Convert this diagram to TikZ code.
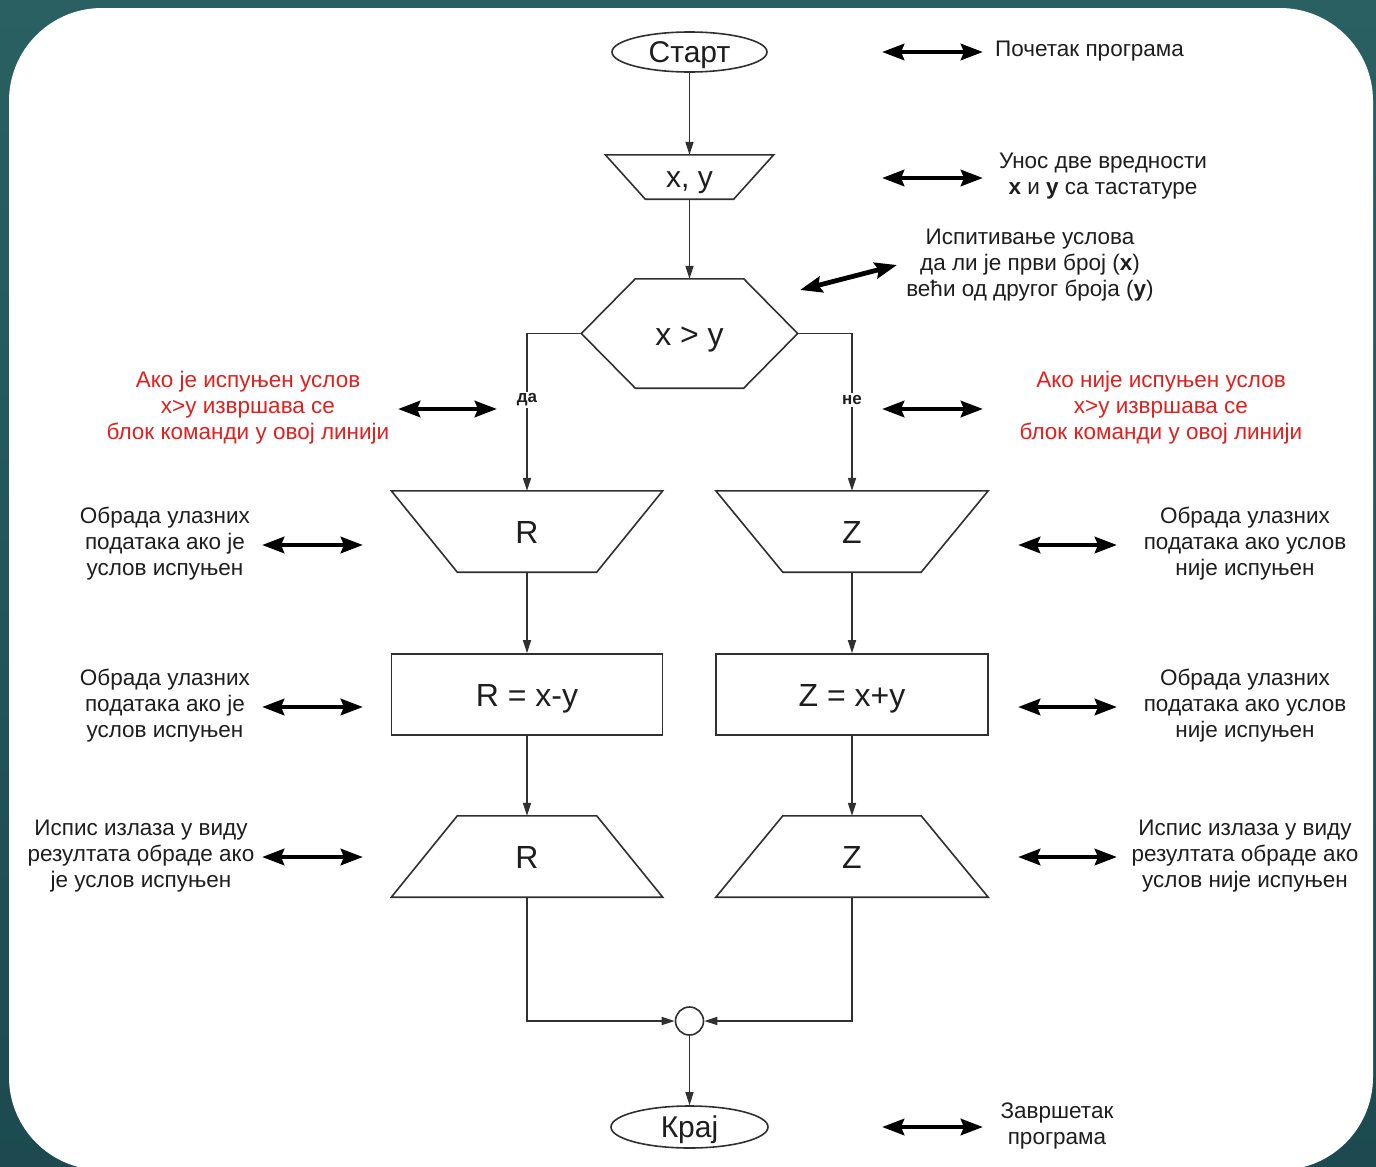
\documentclass[tikz,border=0pt]{standalone}
\usepackage{fontspec}
\setmainfont{Liberation Sans}
\usetikzlibrary{arrows.meta,shapes.geometric}
\definecolor{tealA}{HTML}{2A6062}
\definecolor{tealB}{HTML}{1C4A50}
\definecolor{lnc}{HTML}{303030}
\definecolor{txc}{HTML}{1E1E1E}
\definecolor{redc}{HTML}{E0201E}
\begin{document}
\begin{tikzpicture}[x=1pt,y=-1pt,
  line/.style={draw=lnc, line width=1.6pt},
  conn/.style={line, -{Triangle[length=13pt,width=8pt]}},
  dbl/.style={draw=black, line width=4.8pt, {Stealth[length=22pt,width=16pt,inset=3pt]}-{Stealth[length=22pt,width=16pt,inset=3pt]}},
  lbl/.style={font=\fontsize{32}{36}\selectfont, text=txc, inner sep=0pt, text height=23pt, text depth=0pt},
  lbls/.style={lbl, font=\fontsize{30}{34}\selectfont, text height=21.5pt},
  note/.style={font=\fontsize{22.5}{26}\selectfont, align=center, text=txc, inner sep=0pt},
  rednote/.style={note, text=redc},
  yn/.style={font=\fontsize{17}{19}\selectfont\bfseries, text=txc, fill=white, inner sep=2pt},
]
\useasboundingbox (0,0) rectangle (1376,1167);
\shade[top color=tealA, bottom color=tealB] (0,0) rectangle (1376,1167);
\fill[white, rounded corners=93pt] (9,8) rectangle (1373,1170);

% main flow nodes
\node[ellipse, line, lbls, minimum width=155pt, minimum height=40pt] (start) at (689.5,52) {Старт};

\node[lbls, minimum width=168pt, minimum height=44pt] (in) at (689.5,177) {x, y};
\draw[line] (in.north west) -- (in.north east) -- ([xshift=-40pt]in.south east) -- ([xshift=40pt]in.south west) -- cycle;

\node[lbl, minimum width=216pt, minimum height=109pt] (hex) at (689.5,333.5) {x > y};
\draw[line] (hex.west) -- ([xshift=54pt]hex.north west) -- ([xshift=-54pt]hex.north east) -- (hex.east)
  -- ([xshift=-54pt]hex.south east) -- ([xshift=54pt]hex.south west) -- cycle;

\node[lbl, minimum width=271pt, minimum height=81pt] (rin) at (527,531.5) {R};
\draw[line] (rin.north west) -- (rin.north east) -- ([xshift=-66pt]rin.south east) -- ([xshift=66pt]rin.south west) -- cycle;
\node[lbl, minimum width=272pt, minimum height=81pt] (zin) at (852,531.5) {Z};
\draw[line] (zin.north west) -- (zin.north east) -- ([xshift=-67pt]zin.south east) -- ([xshift=67pt]zin.south west) -- cycle;

\node[lbl, line, rectangle, minimum width=271pt, minimum height=81pt] (rbox) at (527,694.5) {R = x-y};
\node[lbl, line, rectangle, minimum width=272pt, minimum height=81pt] (zbox) at (852,694.5) {Z = x+y};

\node[lbl, minimum width=271pt, minimum height=81pt] (rout) at (527,856.5) {R};
\draw[line] (rout.south west) -- (rout.south east) -- ([xshift=-66pt]rout.north east) -- ([xshift=66pt]rout.north west) -- cycle;
\node[lbl, minimum width=272pt, minimum height=81pt] (zout) at (852,856.5) {Z};
\draw[line] (zout.south west) -- (zout.south east) -- ([xshift=-67pt]zout.north east) -- ([xshift=67pt]zout.north west) -- cycle;

\node[circle, line, minimum size=28pt, inner sep=0pt] (jn) at (689.5,1021) {};
\node[ellipse, line, lbls, minimum width=157pt, minimum height=42pt] (kraj) at (689.5,1127) {Крај};

% connectors
\draw[conn] (start.south) -- (in.north);
\draw[conn] (in.south) -- (hex.north);
\draw[conn] (hex.west) -| (rin.north);
\draw[conn] (hex.east) -| (zin.north);
\node[yn] (da) at (527,400) {да};
\node[yn] (ne) at (852,400) {не};
\draw[conn] (rin.south) -- (rbox.north);
\draw[conn] (zin.south) -- (zbox.north);
\draw[conn] (rbox.south) -- (rout.north);
\draw[conn] (zbox.south) -- (zout.north);
\draw[conn] (rout.south) |- (jn.west);
\draw[conn] (zout.south) |- (jn.east);
\draw[conn] (jn.south) -- (kraj.north);

% notes
\node[note, anchor=west] (n1) at (995,51) {Почетак програма};
\node[note] (n2) at (1103,176) {Унос две вредности\\\textbf{x} и \textbf{y} са тастатуре};
\node[note] (n3) at (1030,265) {Испитивање услова\\да ли је први број (\textbf{x})\\већи од другог броја (\textbf{y})};
\node[rednote] (rl) at (248,408) {Ако је испуњен услов\\x>y извршава се\\блок команди у овој линији};
\node[rednote] (rr) at (1161,408) {Ако није испуњен услов\\x>y извршава се\\блок команди у овој линији};
\node[note] (l1) at (165,544) {Обрада улазних\\података ако је\\услов испуњен};
\node[note] (l2) at (165,706) {Обрада улазних\\података ако је\\услов испуњен};
\node[note] (l3) at (141,856) {Испис излаза у виду\\резултата обраде ако\\је услов испуњен};
\node[note] (r1) at (1245,544) {Обрада улазних\\података ако услов\\није испуњен};
\node[note] (r2) at (1245,706) {Обрада улазних\\података ако услов\\није испуњен};
\node[note] (r3) at (1245,856) {Испис излаза у виду\\резултата обраде ако\\услов није испуњен};
\node[note] (n4) at (1057,1126) {Завршетак\\програма};

% side double arrows
\coordinate (a1) at (882,52);   \coordinate (b1) at (983,52);
\coordinate (a2) at (882,178);  \coordinate (b2) at (983,178);
\coordinate (a3) at (800,290);  \coordinate (b3) at (897,265);
\coordinate (a4) at (398,409);  \coordinate (b4) at (497,409);
\coordinate (a5) at (882,409);  \coordinate (b5) at (983,409);
\coordinate (a6) at (262,545);  \coordinate (b6) at (363,545);
\coordinate (a7) at (262,707);  \coordinate (b7) at (363,707);
\coordinate (a8) at (262,857);  \coordinate (b8) at (363,857);
\coordinate (a9) at (1018,545); \coordinate (b9) at (1117,545);
\coordinate (a10) at (1018,707); \coordinate (b10) at (1117,707);
\coordinate (a11) at (1018,857); \coordinate (b11) at (1117,857);
\coordinate (a12) at (882,1127); \coordinate (b12) at (983,1127);
\foreach \i in {1,...,12} { \draw[dbl] (a\i) -- (b\i); }
\end{tikzpicture}
\end{document}
